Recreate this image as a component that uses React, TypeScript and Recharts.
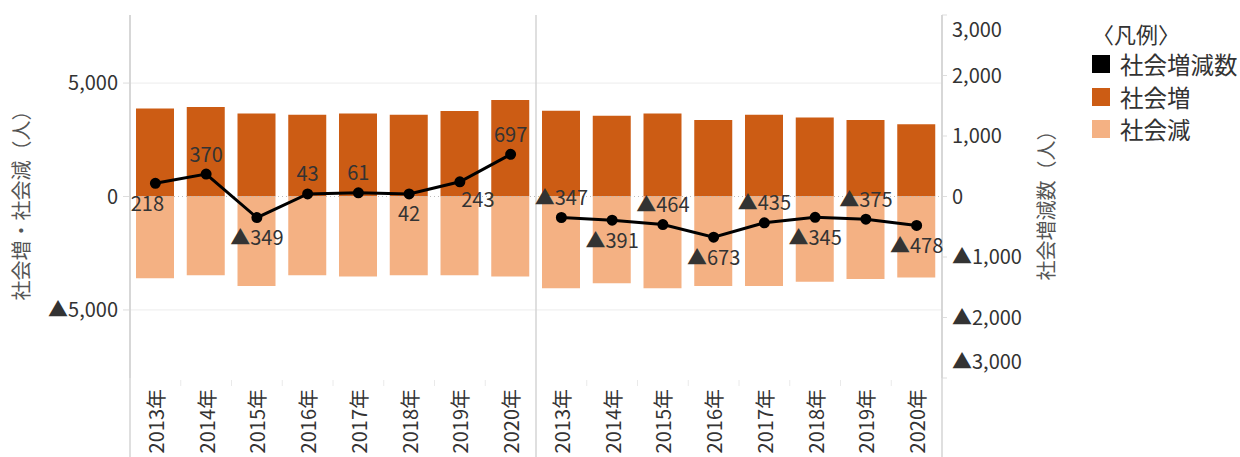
import React from 'react';
import { ComposedChart, Bar, Line, XAxis, YAxis, ReferenceLine, LabelList, Legend } from 'recharts';

const years = ['2013年', '2014年', '2015年', '2016年', '2017年', '2018年', '2019年', '2020年'];

// left panel
const increaseA = [3880, 3940, 3660, 3600, 3660, 3600, 3770, 4250];
const decreaseA = [3600, 3470, 3940, 3470, 3530, 3470, 3470, 3530];
const netA = [218, 370, -349, 43, 61, 42, 243, 697];
const labelSideA = ['bottomLeft', 'top', 'bottom', 'top', 'top', 'bottom', 'bottomRight', 'top'];

// right panel
const increaseB = [3780, 3560, 3660, 3370, 3600, 3480, 3370, 3190];
const decreaseB = [4040, 3820, 4040, 3940, 3940, 3760, 3640, 3570];
const netB = [-347, -391, -464, -673, -435, -345, -375, -478];
const labelSideB = ['top', 'bottom', 'top', 'bottom', 'top', 'bottom', 'top', 'bottom'];

const leftTicks = [-5000, 0, 5000];
const rightTicks = [-3000, -2000, -1000, 0, 1000, 2000, 3000];

const legendNames = ['社会増減数', '社会増', '社会減'];

const INC = '#cc5c14';
const DEC = '#f4b183';
const FONT = '"Noto Sans CJK JP", "Noto Sans", sans-serif';
const TEXT = '#333';
const LINE_GREY = '#d4d4d4';

const W = 1240;
const H = 457;
const TOP = 15;
const PLOT_LEFT = 130;
const PLOT_RIGHT = 942;
const X_AXIS_H = 79;
const PLOT_H = H - TOP - X_AXIS_H;
const BAND = (PLOT_RIGHT - PLOT_LEFT) / (years.length * 2);

const data = [
  ...years.map((y, i) => ({
    key: `${y}|A`,
    inc: increaseA[i],
    dec: -decreaseA[i],
    netA: netA[i],
    netB: null,
    side: labelSideA[i],
  })),
  ...years.map((y, i) => ({
    key: `${y}|B`,
    inc: increaseB[i],
    dec: -decreaseB[i],
    netA: null,
    netB: netB[i],
    side: labelSideB[i],
  })),
];

const fmt = (v: number) =>
  v < 0 ? '▲' + Math.abs(v).toLocaleString('en-US') : v.toLocaleString('en-US');

function YearTick(props: any) {
  const { x, y, payload, index } = props;
  const label = String(payload.value).split('|')[0];
  const right = x + BAND / 2;
  const last = data.length - 1;
  return (
    <g>
      {index === 0 && (
        <line x1={x - BAND / 2} x2={x - BAND / 2} y1={y - PLOT_H} y2={H} stroke={LINE_GREY} strokeWidth={1.5} />
      )}
      {index === 7 || index === last ? (
        <line x1={right} x2={right} y1={y - PLOT_H} y2={H} stroke={LINE_GREY} strokeWidth={1.5} />
      ) : (
        <line x1={right} x2={right} y1={y + 2} y2={y + 8} stroke="#eaeaea" strokeWidth={1} />
      )}
      <text
        transform={`translate(${x}, ${y + 11}) rotate(-90)`}
        textAnchor="end"
        dominantBaseline="central"
        fontSize={20}
        fill={TEXT}
        fontFamily={FONT}
      >
        {label}
      </text>
    </g>
  );
}

function RightTick(props: any) {
  const { x, y, payload } = props;
  const ty = Math.min(Math.max(y, TOP + 15), TOP + PLOT_H - 16);
  return (
    <text x={x} y={ty} dy="0.35em" textAnchor="start" fontSize={20} fill={TEXT} fontFamily={FONT}>
      {fmt(payload.value)}
    </text>
  );
}

function AxisTitle(props: any) {
  const { viewBox, text, dx } = props;
  const cx = viewBox.x + dx;
  const cy = viewBox.y + viewBox.height / 2 + 4;
  return (
    <text
      transform={`translate(${cx}, ${cy}) rotate(-90)`}
      textAnchor="middle"
      dominantBaseline="central"
      fontSize={20}
      fill="#555"
      fontFamily={FONT}
    >
      {text}
    </text>
  );
}

function NetLabel(props: any) {
  const { x, y, value, index } = props;
  if (value == null) return null;
  const side = data[index]?.side ?? 'top';
  let lx = x;
  let ly = y - 21;
  if (side === 'bottom') ly = y + 19;
  if (side === 'bottomLeft') {
    lx = x - 8;
    ly = y + 19;
  }
  if (side === 'bottomRight') {
    lx = x + 18;
    ly = y + 17;
  }
  return (
    <text x={lx} y={ly} textAnchor="middle" dominantBaseline="central" fontSize={20} fill={TEXT} fontFamily={FONT}>
      {fmt(value)}
    </text>
  );
}

function LegendBox() {
  const colors = ['#000', INC, DEC];
  return (
    <div style={{ fontFamily: FONT, color: TEXT }}>
      <div style={{ fontSize: 22, lineHeight: '30px' }}>〈凡例〉</div>
      {legendNames.map((name, i) => (
        <div key={name} style={{ display: 'flex', alignItems: 'center', height: 32.5, fontSize: 23.5 }}>
          <span style={{ width: 18, height: 18, background: colors[i], marginRight: 10, flexShrink: 0 }} />
          <span>{name}</span>
        </div>
      ))}
    </div>
  );
}

export default function App() {
  return (
    <div style={{ position: 'absolute', left: 0, top: 0, width: W, height: H, background: '#fff', fontFamily: FONT }}>
      <ComposedChart
        width={W}
        height={H}
        data={data}
        stackOffset="sign"
        margin={{ top: TOP, right: W - PLOT_RIGHT - 100, bottom: 0, left: 0 }}
      >
        <XAxis
          dataKey="key"
          height={X_AXIS_H}
          interval={0}
          axisLine={false}
          tickLine={false}
          tickSize={0}
          tickMargin={0}
          tick={<YearTick />}
        />
        <YAxis
          yAxisId="left"
          width={PLOT_LEFT}
          domain={[-8000, 8000]}
          ticks={leftTicks}
          allowDataOverflow
          axisLine={{ stroke: LINE_GREY, strokeWidth: 1.5 }}
          tickLine={{ stroke: '#ddd' }}
          tickSize={7}
          tickMargin={5}
          tick={{ fontSize: 20, fill: TEXT, fontFamily: FONT }}
          tickFormatter={fmt}
          label={<AxisTitle text="社会増・社会減（人）" dx={20} />}
        />
        <YAxis
          yAxisId="right"
          orientation="right"
          width={100}
          domain={[-3000, 3000]}
          ticks={rightTicks}
          allowDataOverflow
          axisLine={{ stroke: LINE_GREY, strokeWidth: 1.5 }}
          tickLine={{ stroke: '#ddd' }}
          tickSize={5}
          tickMargin={5}
          tick={<RightTick />}
          label={<AxisTitle text="社会増減数（人）" dx={103} />}
        />
        <ReferenceLine yAxisId="left" y={5000} stroke="#ececec" />
        <ReferenceLine yAxisId="left" y={-5000} stroke="#ececec" />
        <Bar yAxisId="left" dataKey="inc" stackId="s" fill={INC} barSize={38} isAnimationActive={false} />
        <Bar yAxisId="left" dataKey="dec" stackId="s" fill={DEC} barSize={38} isAnimationActive={false} />
        <ReferenceLine yAxisId="left" y={0} stroke="#bbb" strokeDasharray="1 3" />
        <Line
          yAxisId="right"
          dataKey="netA"
          stroke="#000"
          strokeWidth={3}
          dot={{ r: 4, fill: '#000', stroke: '#000' }}
          isAnimationActive={false}
        >
          <LabelList dataKey="netA" content={<NetLabel />} />
        </Line>
        <Line
          yAxisId="right"
          dataKey="netB"
          stroke="#000"
          strokeWidth={3}
          dot={{ r: 4, fill: '#000', stroke: '#000' }}
          isAnimationActive={false}
        >
          <LabelList dataKey="netB" content={<NetLabel />} />
        </Line>
        <Legend
          layout="vertical"
          align="center"
          verticalAlign="middle"
          content={<LegendBox />}
          wrapperStyle={{ left: 1092, top: 18, width: 148 }}
        />
      </ComposedChart>
    </div>
  );
}
